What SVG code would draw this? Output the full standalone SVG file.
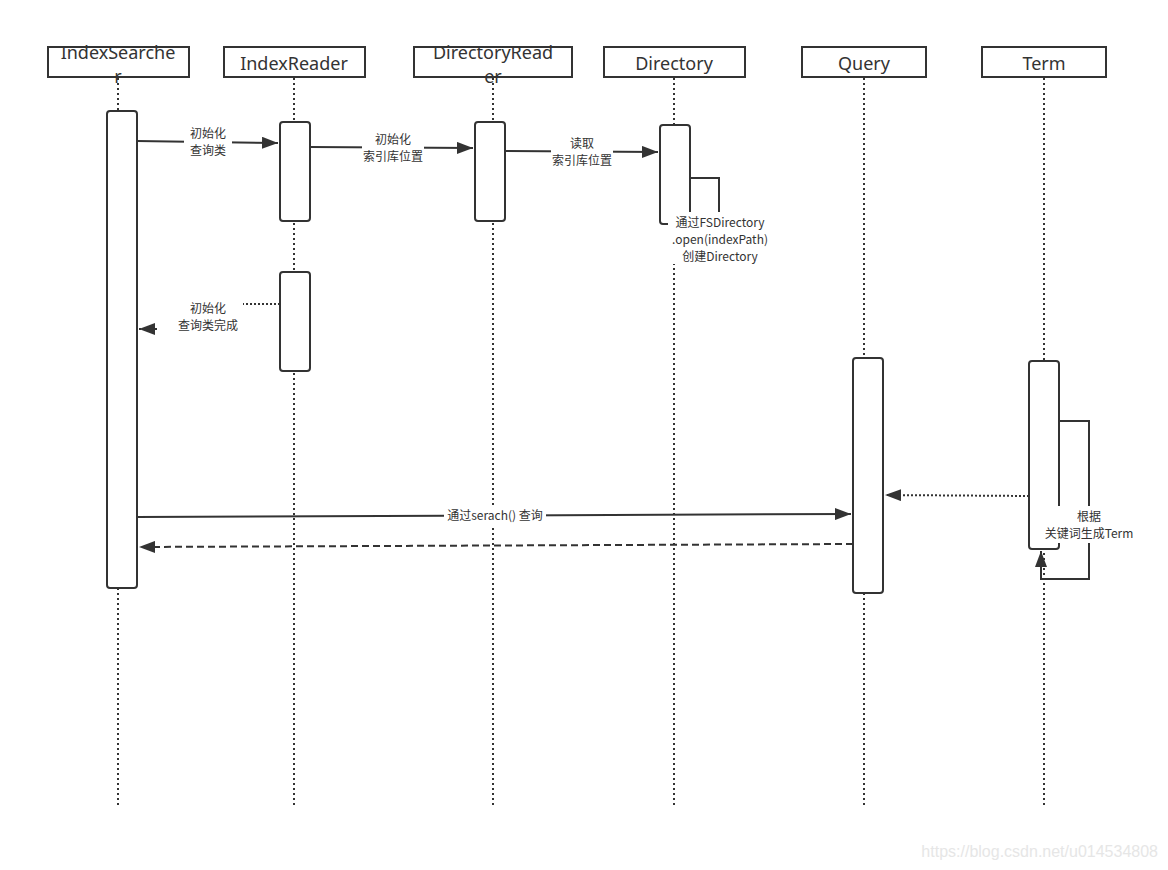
<svg xmlns="http://www.w3.org/2000/svg" width="1168" height="870" viewBox="0 0 1168 870">
<defs>
<style>
.hdr{fill:#fff;stroke:#333;stroke-width:2}
.ht{font-family:"Noto Sans","DejaVu Sans","Noto Sans CJK SC",sans-serif;font-size:18px;fill:#333;text-anchor:middle}
.life{stroke:#333;stroke-width:2;stroke-dasharray:2 3;fill:none}
.act{fill:#fff;stroke:#333;stroke-width:2}
.msg{stroke:#333;stroke-width:2;fill:none}
.dot{stroke:#333;stroke-width:2;stroke-dasharray:2 2;fill:none}
.dash{stroke:#333;stroke-width:2;stroke-dasharray:7 4;fill:none}
.lb{font-family:"Noto Sans CJK SC","Noto Sans",sans-serif;font-size:12px;fill:#333;text-anchor:middle}
.bg{fill:#fff}
</style>
<marker id="arr" viewBox="0 0 16 12" refX="16" refY="6" markerWidth="16" markerHeight="12" markerUnits="userSpaceOnUse" orient="auto">
<path d="M0,0 L16,6 L0,12 Z" fill="#333"/>
</marker>
</defs>
<rect width="1168" height="870" fill="#fff"/>

<g id="lifelines">
<line class="life" x1="118" y1="78" x2="118" y2="805"/>
<line class="life" x1="294" y1="78" x2="294" y2="805"/>
<line class="life" x1="493" y1="78" x2="493" y2="805"/>
<line class="life" x1="674" y1="78" x2="674" y2="805"/>
<line class="life" x1="864" y1="78" x2="864" y2="805"/>
<line class="life" x1="1044" y1="78" x2="1044" y2="805"/>
</g>

<g id="IndexSearcher">
<rect class="hdr" x="48" y="47" width="141" height="30"/>
<text class="ht" x="118" y="59">IndexSearche<tspan x="118" dy="24">r</tspan></text>
<rect class="act" x="107" y="111" width="30" height="477" rx="3"/>
</g>
<g id="IndexReader">
<rect class="hdr" x="224" y="47" width="141" height="30"/>
<text class="ht" x="294" y="70">IndexReader</text>
<rect class="act" x="280" y="122" width="30" height="99" rx="3"/>
<rect class="act" x="280" y="272" width="30" height="99" rx="3"/>
</g>
<g id="DirectoryReader">
<rect class="hdr" x="414" y="47" width="158" height="30"/>
<text class="ht" x="493" y="59">DirectoryRead<tspan x="493" dy="24">er</tspan></text>
<rect class="act" x="475" y="122" width="30" height="99" rx="3"/>
</g>
<g id="Directory">
<rect class="hdr" x="604" y="47" width="141" height="30"/>
<text class="ht" x="674" y="70">Directory</text>
<rect class="act" x="660" y="125" width="30" height="99" rx="3"/>
</g>
<g id="Query">
<rect class="hdr" x="802" y="47" width="124" height="30"/>
<text class="ht" x="864" y="70">Query</text>
<rect class="act" x="853" y="358" width="30" height="235" rx="3"/>
</g>
<g id="Term">
<rect class="hdr" x="982" y="47" width="124" height="30"/>
<text class="ht" x="1044" y="70">Term</text>
<rect class="act" x="1029" y="361" width="30" height="188" rx="3"/>
</g>

<g id="connectors">
<path class="msg" d="M137,141 L278,143" marker-end="url(#arr)"/>
<rect class="bg" x="184" y="124" width="48" height="35"/>
<text class="lb" x="208" y="138">初始化<tspan x="208" dy="17">查询类</tspan></text>

<path class="msg" d="M310,147 L473,148" marker-end="url(#arr)"/>
<rect class="bg" x="362" y="130" width="62" height="35"/>
<text class="lb" x="393" y="144">初始化<tspan x="393" dy="17">索引库位置</tspan></text>

<path class="msg" d="M505,151 L658,152" marker-end="url(#arr)"/>
<rect class="bg" x="551" y="135" width="62" height="35"/>
<text class="lb" x="582" y="148">读取<tspan x="582" dy="17">索引库位置</tspan></text>

<path class="msg" d="M690,178 L719,178 L719,218"/>
<rect class="bg" x="668" y="212" width="104" height="52"/>
<text class="lb" x="720" y="227">通过FSDirectory<tspan x="720" dy="17">.open(indexPath)</tspan><tspan x="720" dy="17">创建Directory</tspan></text>

<path class="dot" d="M280,304 L200,304 L200,329 L139,329" marker-end="url(#arr)"/>
<rect class="bg" x="157" y="298" width="86" height="37"/>
<text class="lb" x="208" y="313">初始化<tspan x="208" dy="17">查询类完成</tspan></text>

<path class="dot" d="M1029,496 L885,495" marker-end="url(#arr)"/>

<path class="msg" d="M137,517 L851,514" marker-end="url(#arr)"/>
<rect class="bg" x="444" y="507" width="102" height="18"/>
<text class="lb" x="495" y="520">通过serach() 查询</text>

<path class="dash" d="M853,544 L139,547" marker-end="url(#arr)"/>

<path class="msg" d="M1059,421 L1089,421 L1089,579 L1041,579 L1041,551" marker-end="url(#arr)"/>
<rect class="bg" x="1042" y="506" width="94" height="37"/>
<text class="lb" x="1089" y="521">根据<tspan x="1089" dy="17">关键词生成Term</tspan></text>
</g>

<text x="1158" y="857" font-family="'Liberation Sans',Arial,sans-serif" font-size="16" fill="#e6e6e6" text-anchor="end">https://blog.csdn.net/u014534808</text>
</svg>
